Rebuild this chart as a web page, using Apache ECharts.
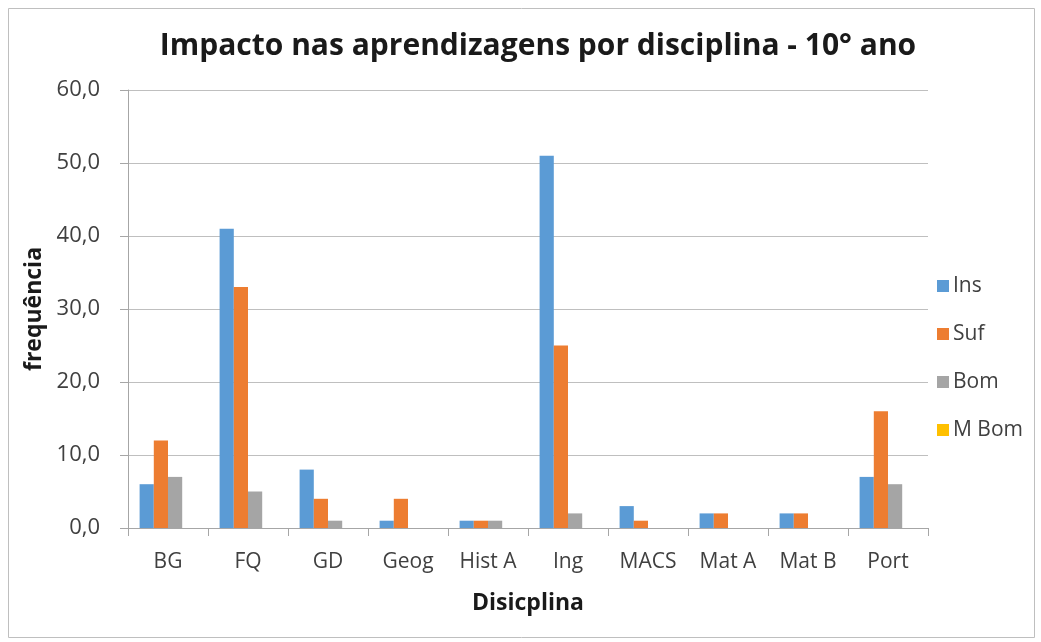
<!DOCTYPE html>
<html>
<head>
<meta charset="utf-8">
<script src="https://cdn.jsdelivr.net/npm/echarts@6/dist/echarts.min.js"></script>
<style>html,body{margin:0;padding:0;background:#fff}#c{width:1041px;height:642px}</style>
</head>
<body>
<div id="c"></div>
<script>
const categories = ['BG', 'FQ', 'GD', 'Geog', 'Hist A', 'Ing', 'MACS', 'Mat A', 'Mat B', 'Port'];
const seriesNames = ['Ins', 'Suf', 'Bom', 'M Bom'];
const insValues = [6, 41, 8, 1, 1, 51, 3, 2, 2, 7];
const sufValues = [12, 33, 4, 4, 1, 25, 1, 2, 2, 16];
const bomValues = [7, 5, 1, 0, 1, 2, 0, 0, 0, 6];
const mBomValues = [0, 0, 0, 0, 0, 0, 0, 0, 0, 0];
const colors = ['#5B9BD5', '#ED7D31', '#A5A5A5', '#FFC000'];

const chart = echarts.init(document.getElementById('c'), null, {renderer: 'canvas'});
const font = 'Open Sans';
const dataSets = [insValues, sufValues, bomValues, mBomValues];
chart.setOption({
  animation: false,
  backgroundColor: '#fff',
  color: colors,
  title: {
    text: 'Impacto nas aprendizagens por disciplina - 10° ano',
    left: 533, top: 26, textAlign: 'center',
    textStyle: {fontFamily: font, fontSize: 30, fontWeight: 'bold', color: '#1a1a1a'}
  },
  graphic: [{
    type: 'rect', shape: {x: 8.5, y: 8.5, width: 1026, height: 629},
    style: {fill: 'none', stroke: '#BFBFBF', lineWidth: 1}, silent: true
  }],
  legend: {
    orient: 'vertical', left: 932, top: 269,
    itemWidth: 12, itemHeight: 12, itemGap: 24, icon: 'rect',
    textStyle: {fontFamily: font, fontSize: 21, color: '#404040', lineHeight: 24, padding: [0, 0, 0, -1]},
    data: seriesNames
  },
  grid: {left: 128, right: 113, top: 90, bottom: 114, containLabel: false},
  xAxis: {
    type: 'category', data: categories,
    name: 'Disicplina', nameLocation: 'middle', nameGap: 64,
    nameTextStyle: {fontFamily: font, fontSize: 23, fontWeight: 'bold', color: '#1a1a1a'},
    axisLine: {lineStyle: {color: '#A6A6A6'}},
    axisTick: {show: true, length: 8, lineStyle: {color: '#A6A6A6'}, alignWithLabel: false},
    axisLabel: {fontFamily: font, fontSize: 21, color: '#404040', margin: 24}
  },
  yAxis: {
    type: 'value', min: 0, max: 60, interval: 10,
    name: 'frequência', nameLocation: 'middle', nameGap: 80,
    nameTextStyle: {fontFamily: font, fontSize: 23, fontWeight: 'bold', color: '#1a1a1a'},
    axisLine: {show: true, lineStyle: {color: '#A6A6A6'}},
    axisTick: {show: true, length: 8, lineStyle: {color: '#A6A6A6'}},
    splitLine: {lineStyle: {color: '#BFBFBF'}},
    axisLabel: {fontFamily: font, fontSize: 22, color: '#404040', margin: 28,
      formatter: v => v.toFixed(1).replace('.', ',')}
  },
  series: seriesNames.map((n, i) => ({
    name: n, type: 'bar', data: dataSets[i],
    barGap: '0%', barCategoryGap: '29%',
    itemStyle: {color: colors[i]}
  }))
});
</script>
</body>
</html>
